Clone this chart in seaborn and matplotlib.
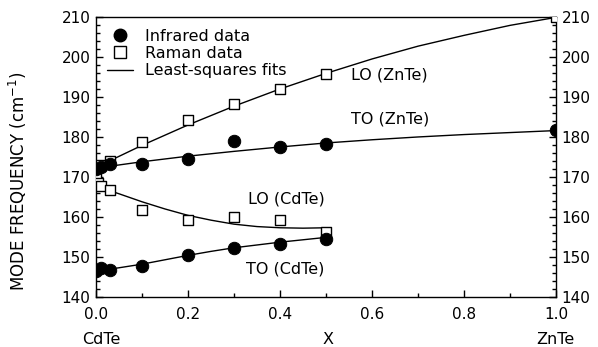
import numpy as np
import pandas as pd
import matplotlib
matplotlib.use("Agg")
import matplotlib.pyplot as plt
from matplotlib.lines import Line2D
from matplotlib.ticker import MultipleLocator
import seaborn as sns

# infrared data (filled circles)
ir_zn_x = [0.0, 0.01, 0.03, 0.1, 0.2, 0.3, 0.4, 0.5, 1.0]
ir_zn_y = [172.0, 172.6, 173.3, 173.3, 174.5, 179.2, 177.5, 178.4, 181.8]
ir_cd_x = [0.0, 0.01, 0.03, 0.1, 0.2, 0.3, 0.4, 0.5]
ir_cd_y = [146.7, 147.3, 146.8, 147.8, 150.5, 152.4, 153.3, 154.6]

# raman data (open squares)
ra_zn_x = [0.0, 0.01, 0.03, 0.1, 0.2, 0.3, 0.4, 0.5, 1.0]
ra_zn_y = [172.5, 173.0, 174.0, 178.8, 184.3, 188.3, 192.2, 195.8, 210.0]
ra_cd_x = [0.0, 0.005, 0.01, 0.03, 0.1, 0.2, 0.3, 0.4, 0.5]
ra_cd_y = [169.8, 168.6, 167.8, 166.8, 161.9, 159.4, 160.0, 159.4, 156.4]

# least-squares fit curves
fit_x_full = [0.0, 0.1, 0.2, 0.3, 0.4, 0.5, 0.6, 0.7, 0.8, 0.9, 1.0]
lo_zn_fit = [172.5, 178.0, 183.1, 187.8, 192.1, 196.0, 199.6, 202.8, 205.5, 208.0, 210.0]
to_zn_fit = [172.3, 173.9, 175.3, 176.5, 177.6, 178.6, 179.4, 180.1, 180.7, 181.2, 181.7]
fit_x_half = [0.0, 0.05, 0.1, 0.15, 0.2, 0.25, 0.3, 0.35, 0.4, 0.45, 0.5]
lo_cd_fit = [167.8, 165.9, 163.9, 162.1, 160.5, 159.3, 158.3, 157.7, 157.4, 157.3, 157.4]
to_cd_fit = [146.6, 147.4, 148.3, 149.4, 150.5, 151.5, 152.4, 153.1, 153.8, 154.4, 155.0]

branch_labels = ["LO (ZnTe)", "TO (ZnTe)", "LO (CdTe)", "TO (CdTe)"]
label_x = [0.555, 0.555, 0.33, 0.325]
label_y = [195.6, 184.6, 164.6, 147.2]

sns.set_style("ticks")
plt.rcParams["font.family"] = ["DejaVu Sans"]
plt.rcParams.update({"text.color": "black", "axes.labelcolor": "black",
                     "xtick.color": "black", "ytick.color": "black",
                     "axes.edgecolor": "black"})

fig = plt.figure(figsize=(5.98, 3.47), dpi=100)
ax = fig.add_axes([0.1605, 0.143, 0.7695, 0.807])

fits = [(fit_x_full, lo_zn_fit), (fit_x_full, to_zn_fit),
        (fit_x_half, lo_cd_fit), (fit_x_half, to_cd_fit)]
for fx, fy in fits:
    sns.lineplot(x=fx, y=fy, ax=ax, color="black", lw=1.0, sort=False)

ir = pd.DataFrame({"x": ir_zn_x + ir_cd_x, "y": ir_zn_y + ir_cd_y})
ra = pd.DataFrame({"x": ra_zn_x + ra_cd_x, "y": ra_zn_y + ra_cd_y})
sns.scatterplot(data=ra, x="x", y="y", ax=ax, marker="s", s=55,
                facecolor="white", edgecolor="black", linewidth=1.0, zorder=3)
sns.scatterplot(data=ir, x="x", y="y", ax=ax, marker="o", s=80,
                color="black", edgecolor="black", zorder=4)

for t, tx, ty in zip(branch_labels, label_x, label_y):
    ax.text(tx, ty, t, fontsize=11.5, va="center", ha="left")

ax.set_xlim(0, 1)
ax.set_ylim(140, 210)
ax.set_xticks(np.arange(0, 1.01, 0.2))
ax.set_xticklabels([f"{v:.1f}" for v in np.arange(0, 1.01, 0.2)])
ax.xaxis.set_minor_locator(MultipleLocator(0.1))
ax.yaxis.set_major_locator(MultipleLocator(10))
ax.yaxis.set_minor_locator(MultipleLocator(2))
ax.tick_params(which="both", direction="in", right=True, top=False,
               labelright=True, labelsize=11)
ax.tick_params(axis="x", which="major", pad=7)
ax.tick_params(axis="y", which="major", pad=4)
ax.tick_params(which="major", length=5, width=1)
ax.tick_params(which="minor", length=3, width=1)
for s in ax.spines.values():
    s.set_linewidth(1.0)
    s.set_visible(True)

ax.set_xlabel("")
ax.set_ylabel("MODE FREQUENCY (cm$^{-1}$)", fontsize=12)
ax.yaxis.set_label_coords(-0.145, 0.414)
fig.text(0.169, 0.023, "CdTe", ha="center", va="center", fontsize=11.5)
fig.text(0.548, 0.023, "X", ha="center", va="center", fontsize=11.5)
fig.text(0.928, 0.023, "ZnTe", ha="center", va="center", fontsize=11.5)

handles = [
    Line2D([], [], marker="o", color="black", ls="none", markersize=9),
    Line2D([], [], marker="s", markerfacecolor="white", markeredgecolor="black",
           ls="none", markersize=8),
    Line2D([], [], color="black", lw=1.0),
]
ax.legend(handles, ["Infrared data", "Raman data", "Least-squares fits"],
          loc="upper left", frameon=False, fontsize=11.5, handlelength=1.6,
          labelspacing=0.15, borderaxespad=0.3, handletextpad=0.8)

fig.savefig("out.png", dpi=100)
